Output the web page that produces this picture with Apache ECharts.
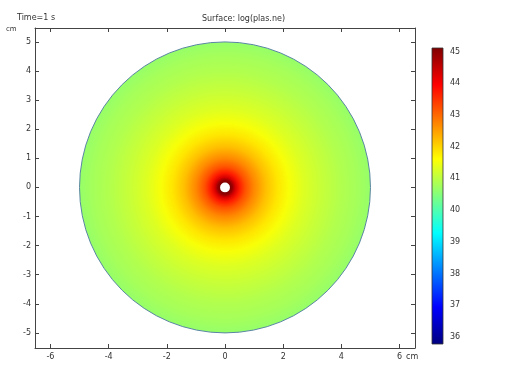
<!DOCTYPE html>
<html>
<head>
<meta charset="utf-8">
<script src="https://cdn.jsdelivr.net/npm/echarts@6/dist/echarts.min.js"></script>
<style>
html,body{margin:0;padding:0;background:#fff;}
#chart{width:508px;height:368px;}
</style>
</head>
<body>
<div id="chart"></div>
<script>
// ---- data ----
const xTicks = [-6, -4, -2, 0, 2, 4, 6];
const yTicks = [-5, -4, -3, -2, -1, 0, 1, 2, 3, 4, 5];
const colorbarTicks = [36, 37, 38, 39, 40, 41, 42, 43, 44, 45];
// radial profile of log(plas.ne) (radius in cm)
const radius = [0.17, 0.25, 0.35, 0.5, 0.7, 1.0, 1.4, 1.8, 2.2, 2.7, 3.3, 4.0, 4.5, 5.0];
const logNe  = [45.1, 44.9, 44.3, 43.7, 43.2, 42.7, 42.2, 41.85, 41.55, 41.3, 41.1, 40.9, 40.8, 40.65];
const holeRadius = 0.17;
const domainRadius = 5;
const colorMin = 35.78;
const colorMax = 45.11;

// ---- colormap (rainbow / jet) ----
const jetStops = [
  [0, [0, 0, 127]], [0.125, [0, 0, 255]], [0.375, [0, 255, 255]],
  [0.625, [255, 255, 0]], [0.875, [255, 0, 0]], [1, [127, 0, 0]]
];
function colorFor(v) {
  let t = (v - colorMin) / (colorMax - colorMin);
  t = Math.max(0, Math.min(1, t));
  for (let i = 1; i < jetStops.length; i++) {
    if (t <= jetStops[i][0]) {
      const a = jetStops[i - 1], b = jetStops[i];
      const f = (t - a[0]) / (b[0] - a[0]);
      const c = a[1].map((x, k) => Math.round(x + (b[1][k] - x) * f));
      return 'rgb(' + c.join(',') + ')';
    }
  }
  return 'rgb(127,0,0)';
}

const axisColor = '#444';
const labelStyle = { fontSize: 8, color: '#333', fontFamily: 'DejaVu Sans' };

const chart = echarts.init(document.getElementById('chart'), null, { renderer: 'canvas' });
chart.setOption({
  animation: false,
  backgroundColor: '#fff',
  grid: [
    { left: 35, top: 28, width: 380, height: 320, show: false },
    { left: 432, top: 48, width: 11, height: 296, show: false }
  ],
  xAxis: [
    { gridIndex: 0, type: 'value', min: -6.53, max: 6.53, position: 'bottom',
      axisLine: { show: true, onZero: false, lineStyle: { color: axisColor, width: 1 } },
      axisTick: { show: true, inside: true, length: 4, customValues: xTicks, lineStyle: { color: axisColor } },
      axisLabel: Object.assign({ customValues: xTicks, margin: 5 }, labelStyle),
      splitLine: { show: false } },
    { gridIndex: 0, type: 'value', min: -6.53, max: 6.53, position: 'top',
      axisLine: { show: true, onZero: false, lineStyle: { color: axisColor, width: 1 } },
      axisTick: { show: true, inside: true, length: 4, customValues: xTicks, lineStyle: { color: axisColor } },
      axisLabel: { show: false }, splitLine: { show: false } },
    { gridIndex: 1, type: 'value', min: 0, max: 1, show: false }
  ],
  yAxis: [
    { gridIndex: 0, type: 'value', min: -5.52, max: 5.48, position: 'left',
      axisLine: { show: true, onZero: false, lineStyle: { color: axisColor, width: 1 } },
      axisTick: { show: true, inside: true, length: 4, customValues: yTicks, lineStyle: { color: axisColor } },
      axisLabel: Object.assign({ customValues: yTicks, margin: 4 }, labelStyle),
      splitLine: { show: false } },
    { gridIndex: 0, type: 'value', min: -5.52, max: 5.48, position: 'right',
      axisLine: { show: true, onZero: false, lineStyle: { color: axisColor, width: 1 } },
      axisTick: { show: true, inside: true, length: 4, customValues: yTicks, lineStyle: { color: axisColor } },
      axisLabel: { show: false }, splitLine: { show: false } },
    { gridIndex: 1, type: 'value', min: colorMin, max: colorMax, position: 'right',
      axisLine: { show: false, onZero: false },
      axisTick: { show: true, inside: true, length: 2, customValues: colorbarTicks, lineStyle: { color: '#222' } },
      axisLabel: Object.assign({ customValues: colorbarTicks, margin: 7 }, labelStyle),
      splitLine: { show: false } },
    { gridIndex: 1, type: 'value', min: colorMin, max: colorMax, position: 'left',
      axisLine: { show: false, onZero: false },
      axisTick: { show: true, inside: true, length: 2, customValues: colorbarTicks, lineStyle: { color: '#222' } },
      axisLabel: { show: false }, splitLine: { show: false } }
  ],
  series: [
    {
      type: 'custom', xAxisIndex: 0, yAxisIndex: 0, silent: true, clip: false,
      data: [[0, 0]],
      renderItem: function (params, api) {
        const c = api.coord([api.value(0), api.value(1)]);
        const R = api.size([domainRadius, 0])[0];
        const r0 = api.size([holeRadius, 0])[0];
        const stops = [{ offset: 0, color: colorFor(logNe[0]) }].concat(
          radius.map((r, i) => ({ offset: r / domainRadius, color: colorFor(logNe[i]) })));
        return {
          type: 'group',
          children: [
            { type: 'ring', shape: { cx: c[0], cy: c[1], r: R, r0: r0 },
              style: { fill: { type: 'radial', x: c[0], y: c[1], r: R, global: true, colorStops: stops } } },
            { type: 'circle', shape: { cx: c[0], cy: c[1], r: R },
              style: { fill: 'none', stroke: '#5a86a3', lineWidth: 1 } }
          ]
        };
      }
    },
    {
      type: 'custom', xAxisIndex: 2, yAxisIndex: 2, silent: true, clip: false,
      data: [[0, colorMin, 1, colorMax]],
      renderItem: function (params, api) {
        const p0 = api.coord([api.value(0), api.value(1)]);
        const p1 = api.coord([api.value(2), api.value(3)]);
        return {
          type: 'rect',
          shape: { x: p0[0], y: p1[1], width: p1[0] - p0[0], height: p0[1] - p1[1] },
          style: {
            fill: { type: 'linear', x: 0, y: 1, x2: 0, y2: 0,
              colorStops: jetStops.map(s => ({ offset: s[0], color: 'rgb(' + s[1].join(',') + ')' })) },
            stroke: '#333', lineWidth: 0.8
          },
          z2: 1
        };
      }
    }
  ],
  graphic: [
    { type: 'text', left: 17, top: 14, style: { text: 'Time=1 s', font: '8px "DejaVu Sans"', fill: '#333' } },
    { type: 'text', x: 243.5, y: 19, style: { text: 'Surface: log(plas.ne)', font: '8px "DejaVu Sans"', fill: '#333', align: 'center', verticalAlign: 'middle' } },
    { type: 'text', x: 6, y: 29, style: { text: 'cm', font: '7px "DejaVu Sans"', fill: '#333', verticalAlign: 'middle' } },
    { type: 'text', x: 406, y: 357, style: { text: 'cm', font: '8px "DejaVu Sans"', fill: '#333', verticalAlign: 'middle' } }
  ]
});
</script>
</body>
</html>
